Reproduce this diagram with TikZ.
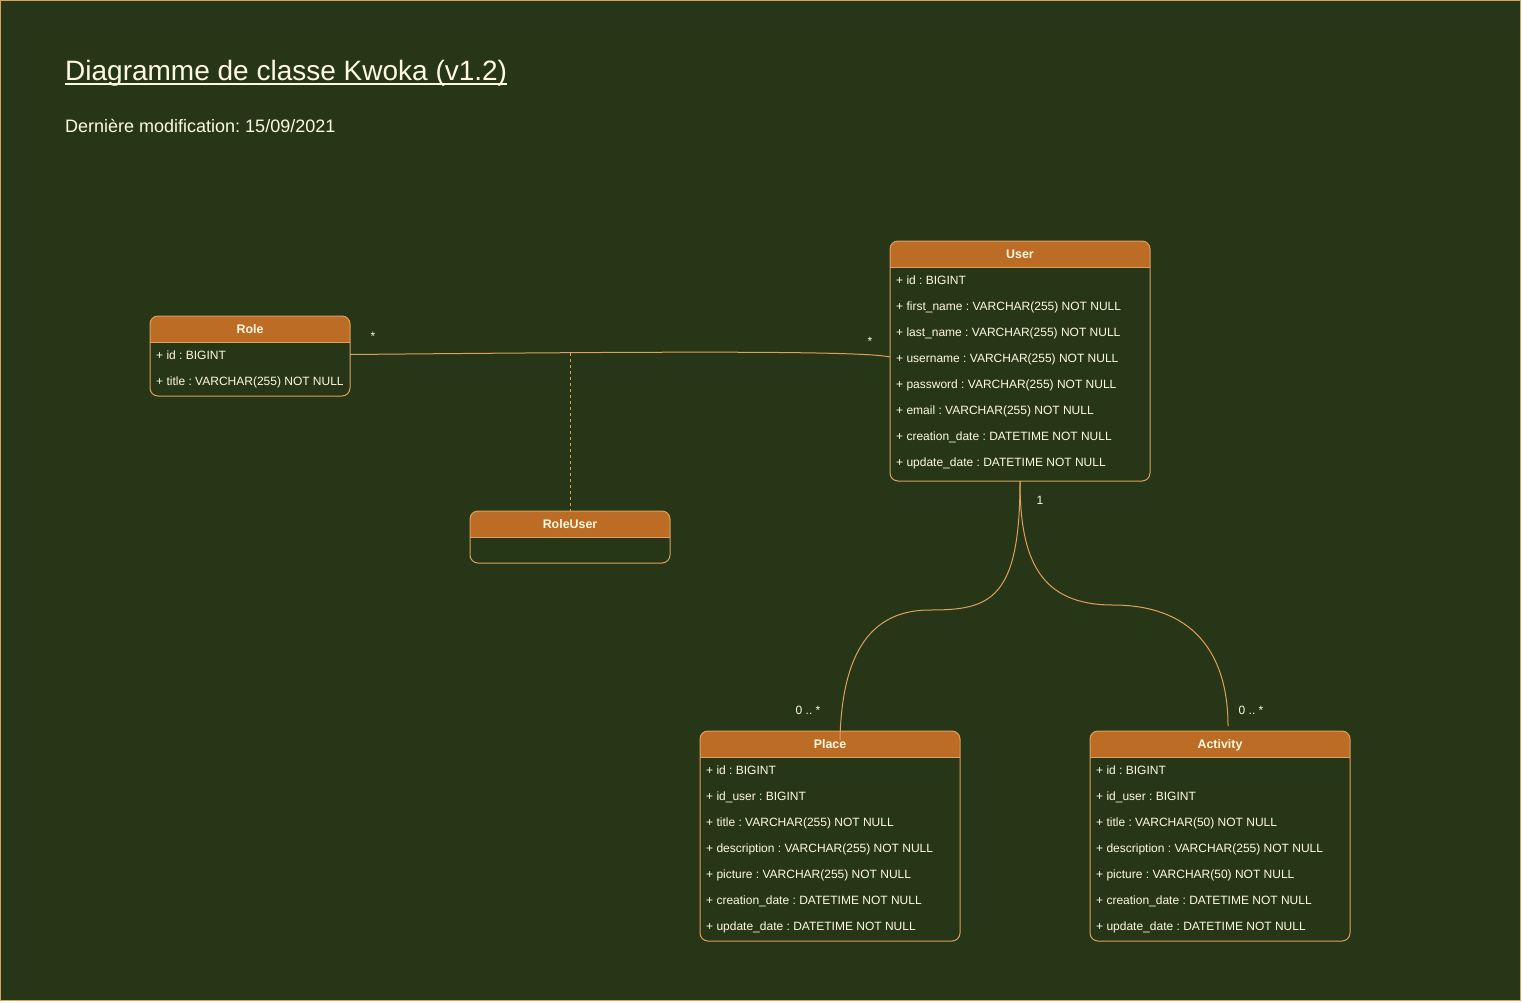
\documentclass[tikz,border=0pt]{standalone}
\usepackage{fontspec}
\setmainfont{Liberation Sans}
\frenchspacing
\definecolor{bgcol}{HTML}{283618}
\definecolor{hdrcol}{HTML}{BC6C25}
\definecolor{linecol}{HTML}{DDA15E}
\definecolor{txtcol}{HTML}{FEFAE0}
\tikzset{
  frame/.style={draw=linecol, line width=1pt},
  classframe/.style={inner sep=0pt, outer sep=0pt, draw=none},
  hdrtext/.style={inner sep=0pt, text=txtcol, font=\fontsize{12.4}{14}\selectfont\bfseries},
  rowtext/.style={inner sep=0pt, text=txtcol, font=\fontsize{12}{14}\selectfont, anchor=base west},
  multlabel/.style={inner sep=0pt, text=txtcol, font=\fontsize{12}{14}\selectfont, anchor=base},
  assoc/.style={draw=linecol, line width=1pt},
}
\newcommand{\umlclass}[6]{%
  \node[classframe, minimum width=#4pt, minimum height=#5pt, anchor=north west] (#1) at (#2,#3) {};
  \begin{scope}
    \clip[rounded corners=8pt] (#1.north west) rectangle (#1.south east);
    \fill[hdrcol] (#1.north west) rectangle ([yshift=-26pt]#1.north east);
  \end{scope}
  \draw[frame] ([yshift=-26pt]#1.north west) -- ([yshift=-26pt]#1.north east);
  \draw[frame, rounded corners=8pt] (#1.north west) rectangle (#1.south east);
  \node[hdrtext, anchor=base] (#1-title) at ([yshift=-17.5pt]#1.north) {#6};
}
\newcommand{\umlrow}[4]{%
  \node[rowtext] (#2-r#3) at ([xshift=6pt, yshift={-(17.3+26*#3)*1pt}]#2.north west) {#4};
}
\begin{document}
\begin{tikzpicture}[x=1pt, y=-1pt]
\useasboundingbox (0,0) rectangle (1522,1002);
\fill[white] (0,0) rectangle (1522,1002);
\draw[fill=bgcol, draw=linecol, line width=1pt] (0.5,0.5) rectangle (1520.5,1000.5);

% title
\node[inner sep=0pt, anchor=base west, text=txtcol, font=\fontsize{28}{32}\selectfont] (title) at (65,80) {Diagramme de classe Kwoka (v1.2)};
\draw[txtcol, line width=1.5pt] ([yshift=-3.8pt]title.base west) -- ([yshift=-3.8pt]title.base east);
\node[inner sep=0pt, anchor=base west, text=txtcol, font=\fontsize{18}{22}\selectfont] (subtitle) at (65,132) {Dernière modification: 15/09/2021};

% classes
\umlclass{role}{150}{316}{200}{80}{Role}
\umlrow{r}{role}{1}{+ id : BIGINT}
\umlrow{r}{role}{2}{+ title : VARCHAR(255) NOT NULL}

\umlclass{user}{890}{241}{260}{240}{User}
\umlrow{r}{user}{1}{+ id : BIGINT}
\umlrow{r}{user}{2}{+ first\_name : VARCHAR(255) NOT NULL}
\umlrow{r}{user}{3}{+ last\_name : VARCHAR(255) NOT NULL}
\umlrow{r}{user}{4}{+ username : VARCHAR(255) NOT NULL}
\umlrow{r}{user}{5}{+ password : VARCHAR(255) NOT NULL}
\umlrow{r}{user}{6}{+ email : VARCHAR(255) NOT NULL}
\umlrow{r}{user}{7}{+ creation\_date : DATETIME NOT NULL}
\umlrow{r}{user}{8}{+ update\_date : DATETIME NOT NULL}

\umlclass{roleuser}{470}{511}{200}{52}{RoleUser}

\umlclass{place}{700}{731}{260}{210}{Place}
\umlrow{r}{place}{1}{+ id : BIGINT}
\umlrow{r}{place}{2}{+ id\_user : BIGINT}
\umlrow{r}{place}{3}{+ title : VARCHAR(255) NOT NULL}
\umlrow{r}{place}{4}{+ description : VARCHAR(255) NOT NULL}
\umlrow{r}{place}{5}{+ picture : VARCHAR(255) NOT NULL}
\umlrow{r}{place}{6}{+ creation\_date : DATETIME NOT NULL}
\umlrow{r}{place}{7}{+ update\_date : DATETIME NOT NULL}

\umlclass{activity}{1090}{731}{260}{210}{Activity}
\umlrow{r}{activity}{1}{+ id : BIGINT}
\umlrow{r}{activity}{2}{+ id\_user : BIGINT}
\umlrow{r}{activity}{3}{+ title : VARCHAR(50) NOT NULL}
\umlrow{r}{activity}{4}{+ description : VARCHAR(255) NOT NULL}
\umlrow{r}{activity}{5}{+ picture : VARCHAR(50) NOT NULL}
\umlrow{r}{activity}{6}{+ creation\_date : DATETIME NOT NULL}
\umlrow{r}{activity}{7}{+ update\_date : DATETIME NOT NULL}

% Role -- User association
\draw[assoc] ([yshift=1.5pt]role.east) .. controls (620,352) and (860,350) .. ([yshift=4pt]user.west);
\coordinate (assocmid) at (570,353);
\draw[assoc, dash pattern=on 3pt off 3pt] (assocmid) -- (roleuser.north);
\node[multlabel] (m-role) at (373,340) {*};
\node[multlabel] (m-user) at (870,345) {*};

% User -- Place / Activity
\coordinate (placemid) at (930,610);
\coordinate (activitymid) at (1113,605);
\draw[assoc] (user.south) .. controls (1020,600) and (990,610) .. (placemid)
  .. controls (880,610) and (842,640) .. ([xshift=10pt, yshift=-9pt]place.north);
\draw[assoc] (user.south) .. controls (1020,560) and (1040,605) .. (activitymid)
  .. controls (1190,605) and (1228,650) .. ([xshift=8pt, yshift=5pt]activity.north);
\node[multlabel] (m-one) at (1040,504.3) {1};
\node[multlabel] (m-place) at (808,714.3) {0 .. *};
\node[multlabel] (m-activity) at (1251,714.3) {0 .. *};
\end{tikzpicture}
\end{document}
